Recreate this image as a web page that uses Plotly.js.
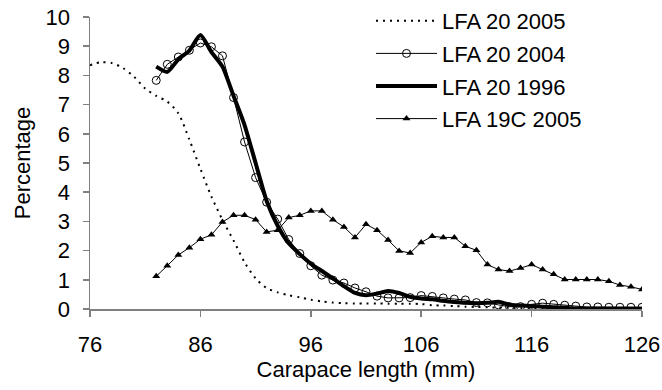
<!DOCTYPE html>
<html>
<head>
<meta charset="utf-8">
<script src="https://cdn.plot.ly/plotly-3.0.1.min.js"></script>
<style>html,body{margin:0;padding:0;background:#fff;}#chart{width:662px;height:390px;}</style>
</head>
<body>
<div id="chart"></div>
<script>
// Carapace length (mm)
const len2005 = [76,77,78,79,80,81,82,83,84,85,86,87,88,89,90,91,92,93,94,95,96,97,98,99,100,101,102,103,104,105,106,107,108,109,110,111,112,113,114,115,116,117,118,119,120,121,122,123,124,125,126];
const lfa20_2005 = [8.35,8.45,8.42,8.25,7.95,7.55,7.3,7.1,6.7,5.8,4.8,3.85,3.05,2.35,1.6,1.05,0.72,0.57,0.47,0.4,0.32,0.26,0.22,0.2,0.19,0.19,0.19,0.18,0.18,0.18,0.17,0.13,0.12,0.1,0.08,0.07,0.06,0.05,0.04,0.03,0.03,0.02,0.02,0.02,0.02,0.02,0.02,0.02,0.02,0.02,0.02];

const lenOther = [82,83,84,85,86,87,88,89,90,91,92,93,94,95,96,97,98,99,100,101,102,103,104,105,106,107,108,109,110,111,112,113,114,115,116,117,118,119,120,121,122,123,124,125,126];
const lfa20_2004 = [7.83,8.38,8.63,8.86,9.11,8.98,8.67,7.24,5.72,4.5,3.66,3.08,2.38,1.9,1.48,1.16,0.99,0.89,0.72,0.59,0.44,0.38,0.38,0.39,0.46,0.43,0.38,0.34,0.31,0.22,0.21,0.14,0.08,0.08,0.16,0.2,0.16,0.13,0.1,0.07,0.07,0.06,0.06,0.06,0.06];
const lfa20_1996 = [8.3,8.12,8.55,8.85,9.38,8.8,8.3,7.3,6.3,5.0,3.7,2.85,2.25,1.88,1.55,1.3,1.05,0.78,0.55,0.47,0.53,0.62,0.55,0.42,0.36,0.33,0.28,0.24,0.21,0.2,0.21,0.25,0.15,0.12,0.1,0.08,0.06,0.04,0.02,0.01,0.01,0.01,0.01,0.01,0.01];
const lfa19c_2005 = [1.12,1.48,1.85,2.1,2.39,2.54,2.98,3.21,3.21,3.06,2.64,2.7,3.13,3.21,3.36,3.36,3.06,2.81,2.45,2.9,2.7,2.36,1.99,1.92,2.28,2.49,2.45,2.45,2.15,2.01,1.52,1.35,1.3,1.4,1.52,1.35,1.19,1.01,1.01,1.01,1.01,0.95,0.82,0.76,0.67];

const xTicks = [76,86,96,106,116,126];
const yTicks = [0,1,2,3,4,5,6,7,8,9,10];

const FONT = 'Liberation Sans, Arial, sans-serif';
const FS = 22;

const traces = [
  {x: len2005, y: lfa20_2005, name: 'LFA 20 2005', mode: 'lines', legendgroup: 'a',
   line: {color: '#000', width: 2, dash: '2px,5px', shape: 'spline', smoothing: 0.8}},
  {x: lenOther, y: lfa20_2004, name: 'LFA 20 2004', mode: 'lines+markers', legendgroup: 'b',
   line: {color: '#000', width: 1},
   marker: {symbol: 'circle-open', size: 8, color: '#000', line: {width: 1, color: '#000'}}},
  {x: lenOther, y: lfa20_1996, name: 'LFA 20 1996', mode: 'lines', legendgroup: 'c',
   line: {color: '#000', width: 4, shape: 'spline', smoothing: 0.6}},
  {x: lenOther, y: lfa19c_2005, name: 'LFA 19C 2005', mode: 'lines+markers', legendgroup: 'd',
   line: {color: '#000', width: 1},
   marker: {symbol: 'triangle-up', size: 7, color: '#000'}}
];

const layout = {
  width: 662, height: 390,
  margin: {l: 90, r: 20, t: 17, b: 81, pad: 0, autoexpand: false},
  paper_bgcolor: '#fff', plot_bgcolor: '#fff',
  font: {family: FONT, size: FS, color: '#000'},
  showlegend: true,
  legend: {xref: 'container', yref: 'container', x: 371/662, y: 1 + 12/390, xanchor: 'left', yanchor: 'top',
           bgcolor: 'rgba(0,0,0,0)',
           font: {family: FONT, size: FS, color: '#000'}, itemwidth: 61, tracegroupgap: 1},
  xaxis: {range: [76, 126], tickvals: xTicks, ticktext: xTicks.map(String),
          showline: true, linecolor: '#808080', linewidth: 1.5,
          ticks: 'outside', ticklen: 6, tickcolor: '#808080', tickwidth: 1.5,
          showgrid: false, zeroline: false, ticklabelstandoff: 9,
          tickfont: {family: FONT, size: FS, color: '#000'},
          title: {text: 'Carapace length (mm)', font: {family: FONT, size: FS, color: '#000'}, standoff: 4}},
  yaxis: {range: [0, 10], tickvals: yTicks, ticktext: yTicks.map(String),
          showline: true, linecolor: '#808080', linewidth: 1.5,
          ticks: 'outside', ticklen: 6, tickcolor: '#808080', tickwidth: 1.5,
          showgrid: false, zeroline: false, ticklabelstandoff: 8,
          tickfont: {family: FONT, size: FS, color: '#000'},
          title: {text: 'Percentage', font: {family: FONT, size: FS, color: '#000'}, standoff: 9}},
  hovermode: false
};

Plotly.newPlot('chart', traces, layout, {staticPlot: true, displayModeBar: false});
</script>
</body>
</html>
